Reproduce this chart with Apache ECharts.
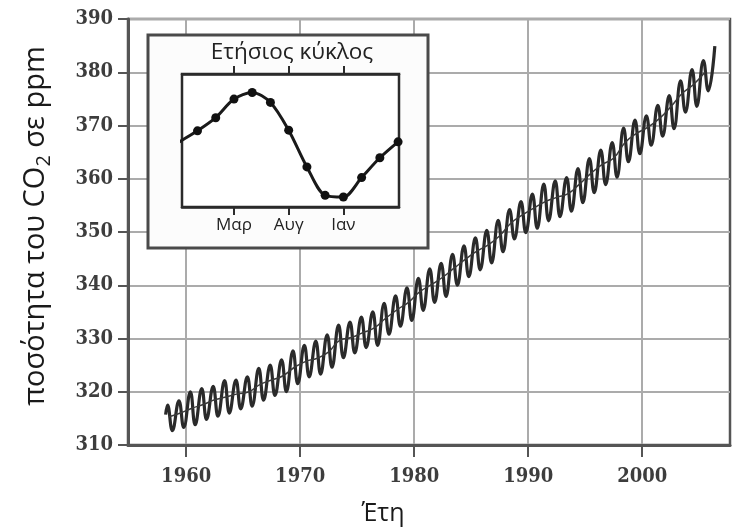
<!DOCTYPE html>
<html>
<head>
<meta charset="utf-8">
<script src="https://cdn.jsdelivr.net/npm/echarts@6/dist/echarts.min.js"></script>
<style>
  html, body { margin: 0; padding: 0; background: #fff; }
  #chart { width: 738px; height: 528px; }
</style>
</head>
<body>
<div id="chart"></div>
<script>
// κύρια καμπύλη: μέγιστο (Μάιος) και ελάχιστο (Οκτ) κάθε έτους, ppm
var years = [1958, 1959, 1960, 1961, 1962, 1963, 1964, 1965, 1966, 1967,
	1968, 1969, 1970, 1971, 1972, 1973, 1974, 1975, 1976, 1977,
	1978, 1979, 1980, 1981, 1982, 1983, 1984, 1985, 1986, 1987,
	1988, 1989, 1990, 1991, 1992, 1993, 1994, 1995, 1996, 1997,
	1998, 1999, 2000, 2001, 2002, 2003, 2004, 2005, 2006];
var peakValues = [317.5, 318.3, 320.0, 320.6, 321.0, 322.1, 322.2, 322.8, 324.4, 325.0,
	326.0, 327.7, 328.7, 329.5, 330.7, 332.5, 333.1, 334.0, 335.0, 336.6,
	338.0, 339.5, 341.3, 343.1, 344.1, 345.8, 347.4, 348.9, 350.3, 352.2,
	354.2, 355.7, 357.1, 359.0, 359.6, 360.2, 361.9, 363.8, 365.4, 366.8,
	369.5, 371.0, 371.8, 373.8, 375.6, 378.4, 380.5, 382.2, 384.9];
// το 2006 τελειώνει στο μέγιστο
var troughValues = [312.7, 313.3, 313.8, 314.8, 315.4, 316.0, 316.8, 317.3, 318.4, 319.3,
	320.0, 321.5, 322.8, 323.3, 324.6, 326.4, 327.3, 328.3, 328.7, 330.8,
	332.3, 333.4, 335.3, 336.8, 337.9, 340.0, 341.6, 342.9, 344.2, 346.3,
	348.7, 349.9, 350.7, 352.1, 352.9, 353.9, 355.5, 357.4, 358.9, 360.3,
	363.2, 364.7, 366.3, 368.0, 369.4, 372.5, 373.6, 376.5];
var annualMeans = [315.3, 316.0, 316.9, 317.6, 318.5, 319.0, 319.6, 320.0, 321.4, 322.2,
	323.0, 324.6, 325.7, 326.3, 327.5, 329.7, 330.2, 331.1, 332.0, 333.8,
	335.4, 336.8, 338.8, 340.1, 341.5, 343.2, 344.9, 346.4, 347.6, 349.3,
	351.7, 353.2, 354.5, 355.7, 356.5, 357.2, 359.0, 361.0, 362.7, 363.9,
	366.8, 368.5, 369.7, 371.3, 373.5, 376.0, 377.7, 380.0];
var firstSample = [1958.2, 315.7];   // Μάρτιος 1958
var peakMonth = 0.37, troughMonth = 0.79;
var yearTicks = [1960, 1970, 1980, 1990, 2000];

// ένθετο: ετήσιος κύκλος (απόκλιση σε ppm), 12 μήνες
var cycleMonths = [1, 2, 3, 4, 5, 6, 7, 8, 9, 10, 11, 12];
var cycleValues = [0.58, 1.37, 2.49, 2.89, 2.29, 0.62, -1.59, -3.30, -3.40, -2.23, -1.04, -0.08];
var cycleTicks = [3, 6, 9];
var cycleLabels = {3: 'Μαρ', 6: 'Αυγ', 9: 'Ιαν'};

function buildCurve() {
	var d = [firstSample];
	for (var i = 0; i < years.length; i++) {
		d.push([years[i] + peakMonth, peakValues[i]]);
		if (i < troughValues.length) d.push([years[i] + troughMonth, troughValues[i]]);
	}
	return d;
}
function buildTrend() {
	var d = [];
	for (var i = 0; i < annualMeans.length; i++) d.push([years[i] + 0.5, annualMeans[i]]);
	return d;
}
function buildCycle() {
	// ξεκινά από την τιμή του Δεκεμβρίου (κυκλικό)
	var d = [{value: [0, cycleValues[11]], symbol: 'none'}];
	for (var i = 0; i < cycleMonths.length; i++) d.push([cycleMonths[i], cycleValues[i]]);
	return d;
}

var labelFont = {
	fontFamily: 'DejaVu Serif Condensed, DejaVu Serif',
	fontWeight: 'bold',
	fontSize: 20,
	color: '#3d3d3d'
};
var insetLine = {show: true, onZero: false, lineStyle: {color: '#2b2b2b', width: 2.5}};
var insetTick = {show: true, length: 8, customValues: cycleTicks, lineStyle: {color: '#2b2b2b', width: 2}};

var myChart = echarts.init(document.getElementById('chart'));
var option = {
	animation: false,
	backgroundColor: '#fff',
	grid: [
		{left: 128, top: 19, right: 8, bottom: 83, outerBoundsMode: 'none',
			show: true, borderColor: '#555', borderWidth: 2.5},
		{left: 182, top: 74, right: 339, bottom: 321, outerBoundsMode: 'none',
			show: true, backgroundColor: '#fff', borderColor: '#2b2b2b', borderWidth: 2.5, z: 15}
	],
	graphic: [
		{type: 'rect', z: 1, shape: {x: 148, y: 35, width: 280, height: 213},
			style: {fill: '#fcfcfc', stroke: '#4a4a4a', lineWidth: 3}},
		{type: 'text', z: 16, x: 292, y: 53,
			style: {text: 'Ετήσιος κύκλος', font: '22.5px "Open Sans"', fill: '#222',
				textAlign: 'center', textVerticalAlign: 'middle'}}
	],
	xAxis: [
		{
			type: 'value', gridIndex: 0, min: 1954.9, max: 2007.7,
			name: 'Έτη', nameLocation: 'middle', nameGap: 56,
			nameTextStyle: {fontFamily: 'Open Sans', fontSize: 25, color: '#1a1a1a', padding: [0, 92, 0, 0]},
			axisLine: {onZero: false, lineStyle: {color: '#555', width: 3}},
			axisTick: {show: true, length: 12, customValues: yearTicks, lineStyle: {color: '#555', width: 2}},
			axisLabel: Object.assign({margin: 22, customValues: yearTicks,
				formatter: function (v) { return String(v); }}, labelFont),
			splitLine: {show: false}
		},
		{
			type: 'value', gridIndex: 1, min: 0.15, max: 12.05, z: 20,
			axisLine: insetLine,
			axisTick: insetTick,
			axisLabel: {margin: 10, customValues: cycleTicks, fontFamily: 'Open Sans', fontSize: 17, color: '#222',
				formatter: function (v) { return cycleLabels[v] || ''; }},
			splitLine: {show: false}
		},
		{
			type: 'value', gridIndex: 1, position: 'top', min: 0.15, max: 12.05, z: 20,
			axisLine: insetLine,
			axisTick: insetTick,
			axisLabel: {show: false, customValues: cycleTicks},
			splitLine: {show: false}
		}
	],
	yAxis: [
		{
			type: 'value', gridIndex: 0, min: 310, max: 390, interval: 10,
			name: 'ποσότητα του CO{sub|2} σε ppm', nameLocation: 'middle', nameGap: 74,
			nameTextStyle: {fontFamily: 'Open Sans', fontSize: 29, color: '#1a1a1a', lineHeight: 36,
				padding: [0, 0, 0, 12],
				rich: {sub: {fontFamily: 'Open Sans', fontSize: 20, lineHeight: 20, verticalAlign: 'bottom', color: '#1a1a1a'}}},
			axisLine: {show: true, lineStyle: {color: '#555', width: 3}},
			axisTick: {show: true, length: 10, lineStyle: {color: '#555', width: 2}},
			axisLabel: Object.assign({margin: 15}, labelFont),
			splitLine: {show: true, lineStyle: {color: '#ababab', width: 2}}
		},
		{
			type: 'value', gridIndex: 1, min: -4, max: 4, z: 20,
			axisLine: {show: false}, axisTick: {show: false}, axisLabel: {show: false},
			splitLine: {show: false}
		}
	],
	series: [
		{
			// κάθετες γραμμές πλέγματος στις δεκαετίες
			name: 'πλέγμα', type: 'line', xAxisIndex: 0, yAxisIndex: 0, data: [], z: 0,
			markLine: {
				z: 0, silent: true, symbol: 'none', label: {show: false},
				lineStyle: {color: '#ababab', width: 2, type: 'solid'},
				data: yearTicks.map(function (y) { return {xAxis: y}; })
			}
		},
		{
			name: 'CO2', type: 'line', xAxisIndex: 0, yAxisIndex: 0,
			data: buildCurve(), smooth: 0.45, showSymbol: false, symbol: 'none',
			lineStyle: {color: '#2a2a2a', width: 3.2}, z: 3
		},
		{
			name: 'τάση', type: 'line', xAxisIndex: 0, yAxisIndex: 0,
			data: buildTrend(), smooth: true, symbol: 'none',
			lineStyle: {color: '#3a3a3a', width: 1.5}, z: 4
		},
		{
			name: 'κύκλος', type: 'line', xAxisIndex: 1, yAxisIndex: 1,
			data: buildCycle(), smooth: 0.3, symbol: 'circle', symbolSize: 9,
			itemStyle: {color: '#111'},
			lineStyle: {color: '#1a1a1a', width: 3}, z: 21
		}
	]
};
myChart.setOption(option);
</script>
</body>
</html>
